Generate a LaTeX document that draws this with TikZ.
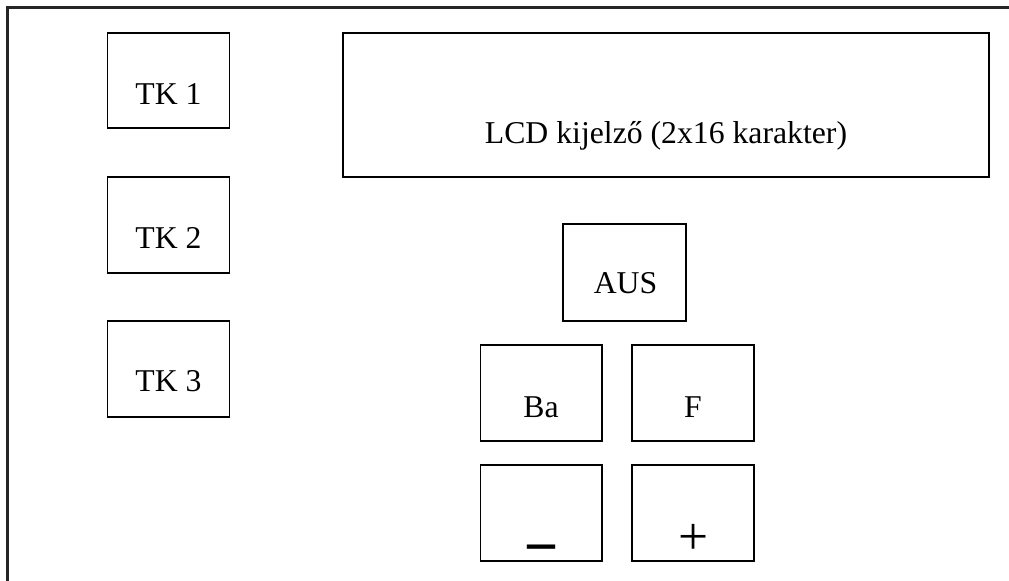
\documentclass[tikz,border=0pt]{standalone}
\usepackage{fontspec}
\setmainfont{Liberation Serif}
\begin{document}
\begin{tikzpicture}[x=0.75pt,y=-0.75pt,
  box/.style={draw=black,line width=1.35pt},
  lbl/.style={inner sep=0pt,anchor=base,font=\fontsize{23.8}{28}\selectfont},
  frame/.style={draw=black!85,line width=1.6pt}]
\useasboundingbox (0,0) rectangle (1009,581);
\clip (0,0) rectangle (1009,581);
\draw[frame] (7.5,600) -- (7.5,7.5) -- (1020,7.5);
% boxes
\draw[box] (107.5,32.7) rectangle (229.5,128.3) coordinate (tk1box);
\draw[box] (107.5,177.3) rectangle (229.5,273.3) coordinate (tk2box);
\draw[box] (107.5,321) rectangle (229.5,417.3) coordinate (tk3box);
\draw[box] (342.7,32.7) rectangle (989.3,176.7) coordinate (lcdbox);
\draw[box] (563.3,224.3) rectangle (686,321) coordinate (ausbox);
\draw[box] (480.5,345) rectangle (601.7,440.7) coordinate (babox);
\draw[box] (632.3,345) rectangle (753.7,440.7) coordinate (fbox);
\draw[box] (480.5,465) rectangle (601.7,560.7) coordinate (minusbox);
\draw[box] (632.3,465) rectangle (753.7,560.7) coordinate (plusbox);
% labels
\node[lbl] (tk1) at (168.5,105) {TK 1};
\node[lbl] (tk2) at (168.5,248.3) {TK 2};
\node[lbl] (tk3) at (168.5,391.7) {TK 3};
\node[lbl] (lcd) at (666,143) {LCD kijelző (2x16 karakter)};
\node[lbl] (aus) at (625.5,293.3) {AUS};
\node[lbl] (ba) at (541,417.3) {Ba};
\node[lbl] (f) at (693,417.3) {F};
\node[lbl,font=\fontsize{21}{25}\bfseries\selectfont] (minus) at (541,561) {\scalebox{1}[2.2]{—}};
\node[lbl,font=\fontsize{40}{44}\selectfont] (plus) at (693.3,554) {+};
\end{tikzpicture}
\end{document}
